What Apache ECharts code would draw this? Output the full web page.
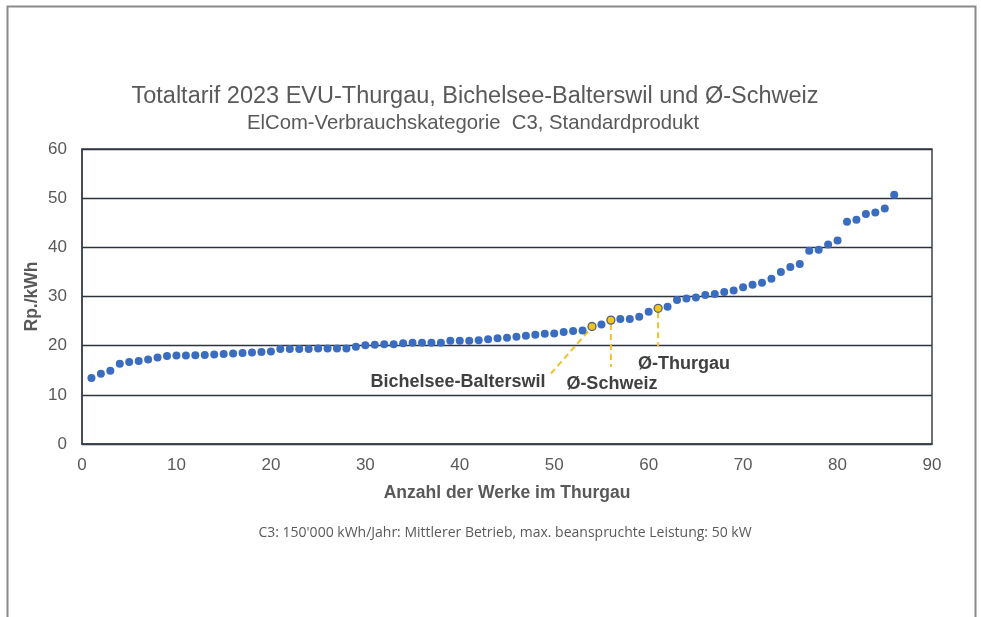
<!DOCTYPE html>
<html><head><meta charset="utf-8">
<script src="https://cdn.jsdelivr.net/npm/echarts@6/dist/echarts.min.js"></script>
<style>html,body{margin:0;padding:0;background:#fff}#c{width:981px;height:617px}</style>
</head><body><div id="c"></div>
<script>
// Rank (Anzahl der Werke) and Totaltarif Rp./kWh
const werke = Array.from({length:86},(_,i)=>i+1);
const tarif = [13.4,14.3,14.9,16.3,16.7,16.9,17.2,17.6,17.9,18.0,
  18.0,18.05,18.1,18.2,18.3,18.4,18.5,18.6,18.7,18.8,
  19.3,19.3,19.3,19.3,19.4,19.4,19.4,19.4,19.8,20.07,
  20.2,20.3,20.3,20.5,20.6,20.6,20.6,20.6,21.0,21.0,
  21.0,21.1,21.3,21.5,21.6,21.8,22.0,22.2,22.4,22.5,
  22.8,23.0,23.1,23.9,24.3,25.2,25.4,25.4,25.9,26.9,
  27.6,27.9,29.3,29.6,29.8,30.3,30.5,30.9,31.2,31.9,
  32.4,32.8,33.6,35.0,36.0,36.6,39.3,39.5,40.6,41.4,
  45.2,45.6,46.8,47.1,47.9,50.7];
const highlights = [
  {name:'Bichelsee-Balterswil', rank:54},
  {name:'Ø-Schweiz', rank:56},
  {name:'Ø-Thurgau', rank:61}
];
const yTicks = [0,10,20,30,40,50,60];
const xTicks = [0,10,20,30,40,50,60,70,80,90];

const chart = echarts.init(document.getElementById('c'));
const txt = '#595959';
const hl = highlights.map(h=>[h.rank, tarif[h.rank-1]]);
chart.setOption({
  animation:false,
  backgroundColor:'#fff',
  title:[{text:'Totaltarif 2023 EVU-Thurgau, Bichelsee-Balterswil und Ø-Schweiz',left:470,top:80,textAlign:'center',
    textStyle:{fontFamily:'Liberation Sans',fontSize:23.5,fontWeight:'normal',color:txt}},
   {text:'ElCom-Verbrauchskategorie  C3, Standardprodukt',left:468,top:108,textAlign:'center',
    textStyle:{fontFamily:'Liberation Sans',fontSize:20.3,fontWeight:'normal',color:txt}},
   {text:"C3: 150'000 kWh/Jahr: Mittlerer Betrieb, max. beanspruchte Leistung: 50 kW",left:500,top:521,textAlign:'center',
    textStyle:{fontFamily:'Open Sans',fontSize:14,fontWeight:'normal',color:txt}}],
  grid:{left:82,right:49,top:149,bottom:173,show:true,borderColor:'#3d4150',borderWidth:1.5},
  xAxis:{type:'value',min:0,max:90,interval:10,name:'Anzahl der Werke im Thurgau',nameLocation:'middle',nameGap:40,
    nameTextStyle:{fontFamily:'Liberation Sans',fontSize:17.5,fontWeight:'bold',color:txt},
    axisLine:{lineStyle:{color:'#3d4150',width:1.5}},axisTick:{show:false},splitLine:{show:false},
    axisLabel:{fontFamily:'Liberation Sans',fontSize:17,color:txt,margin:13}},
  yAxis:{type:'value',min:0,max:60,interval:10,name:'Rp./kWh',nameLocation:'middle',nameGap:41,nameRotate:90,
    nameMoveOverlap:false,
    nameTextStyle:{fontFamily:'Liberation Sans',fontSize:17.5,fontWeight:'bold',color:txt},
    axisLine:{show:true,lineStyle:{color:'#3d4150',width:1.5}},axisTick:{show:false},
    splitLine:{lineStyle:{color:'#2f3340',width:1.3}},
    axisLabel:{fontFamily:'Liberation Sans',fontSize:17,color:txt,margin:15}},
  series:[
    {type:'scatter',data:werke.map((w,i)=>[w,tarif[i]]),symbolSize:8,itemStyle:{color:'#3a6cc0',opacity:1},z:3},
    {type:'scatter',data:hl,symbolSize:8,itemStyle:{color:'#f2c618',borderColor:'#55627a',borderWidth:1.3,opacity:1},z:4}
  ]
});
function px(p){return chart.convertToPixel({gridIndex:0},p);}
const dash = {stroke:'#f2c12e',lineWidth:2,lineDash:[6,4]};
const p0=px(hl[0]),p1=px(hl[1]),p2=px(hl[2]);
const lblStyle={fontFamily:'Liberation Sans',fontSize:18,fontWeight:'bold',fill:'#404040'};
chart.setOption({graphic:[
  {type:'polyline',silent:true,shape:{points:[[7.5,620],[7.5,6.5],[975.5,6.5],[975.5,620]]},style:{stroke:'#8a8a8a',lineWidth:2,fill:null}},
  {type:'line',z:2,shape:{x1:p0[0]-4,y1:p0[1]+5,x2:p0[0]-41,y2:p0[1]+47},style:dash},
  {type:'line',z:2,shape:{x1:p1[0],y1:p1[1]+4,x2:p1[0],y2:p1[1]+47},style:dash},
  {type:'line',z:2,shape:{x1:p2[0],y1:p2[1]+4,x2:p2[0],y2:p2[1]+38},style:dash},
  {type:'text',x:p0[0]-134,y:p0[1]+56,style:Object.assign({text:highlights[0].name,textAlign:'center',textVerticalAlign:'middle'},lblStyle)},
  {type:'text',x:p1[0]+1,y:p1[1]+64,style:Object.assign({text:highlights[1].name,textAlign:'center',textVerticalAlign:'middle'},lblStyle)},
  {type:'text',x:p2[0]+26,y:p2[1]+56,style:Object.assign({text:highlights[2].name,textAlign:'center',textVerticalAlign:'middle'},lblStyle)}
]});
</script></body></html>
